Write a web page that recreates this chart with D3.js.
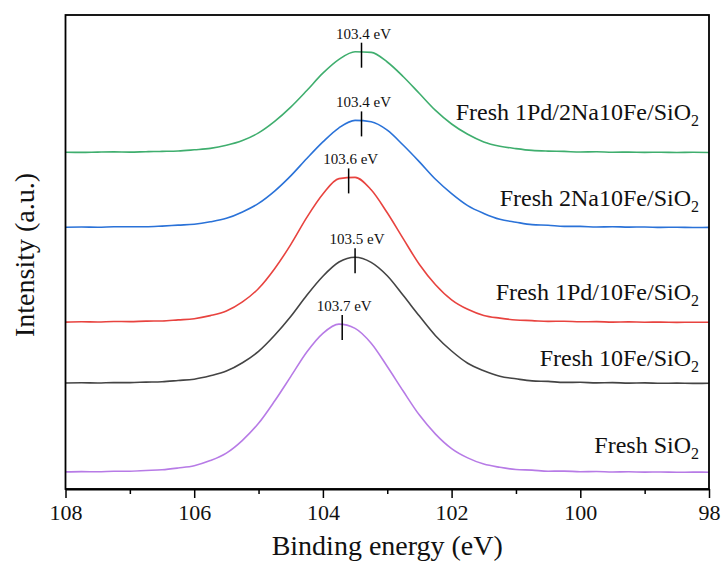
<!DOCTYPE html>
<html>
<head>
<meta charset="utf-8">
<script src="https://cdn.jsdelivr.net/npm/d3@7"></script>
<style>
  html, body { margin: 0; padding: 0; background: #fff; }
  svg { display: block; }
  svg text { font-family: 'Liberation Serif', 'Times New Roman', Times, serif !important; fill: #111; }
</style>
</head>
<body>
<svg id="chart" width="723" height="564"></svg>
<script>
// ---- data (binding energy in eV, intensity in arbitrary units, stacked offsets included) ----
const energy = [108, 107.75, 107.5, 107.25, 107, 106.75, 106.5, 106.25, 106, 105.75, 105.5, 105.25, 105, 104.75, 104.5, 104.25, 104, 103.75, 103.5, 103.25, 103, 102.75, 102.5, 102.25, 102, 101.75, 101.5, 101.25, 101, 100.75, 100.5, 100.25, 100, 99.75, 99.5, 99.25, 99, 98.75, 98.5, 98.25, 98];

const pdNaFe = [335.7, 335.6, 335.9, 336.1, 335.9, 336.3, 336.6, 337.0, 338.2, 339.6, 342.7, 347.5, 355.1, 366.6, 380.9, 397.5, 414.8, 428.6, 436.3, 435.6, 426.0, 411.3, 394.5, 377.6, 364.0, 353.7, 346.1, 341.8, 339.4, 337.6, 336.9, 336.6, 336.0, 336.2, 335.8, 335.9, 335.6, 335.8, 335.5, 335.7, 335.5];
const naFe   = [260.8, 261.0, 260.8, 261.2, 261.3, 261.2, 261.9, 262.9, 263.8, 266.2, 269.7, 276.1, 284.6, 296.9, 312.1, 329.5, 346.1, 360.2, 367.6, 366.2, 357.8, 342.7, 326.1, 308.7, 294.4, 282.4, 274.6, 268.7, 265.8, 263.4, 262.8, 261.6, 261.6, 261.0, 261.3, 260.9, 261.0, 260.6, 260.8, 260.5, 260.6];
const pdFe   = [165.9, 166.2, 166.0, 166.5, 166.4, 166.9, 167.0, 168.1, 169.3, 172.4, 177.0, 186.1, 199.5, 219.3, 243.4, 270.6, 294.0, 309.4, 310.6, 298.2, 275.2, 249.1, 223.5, 203.3, 188.2, 178.7, 172.6, 169.9, 168.0, 167.4, 166.6, 166.8, 166.2, 166.4, 165.9, 166.1, 165.8, 165.9, 165.6, 165.8, 165.7];
const fe     = [105.0, 105.2, 105.0, 105.4, 105.4, 105.9, 106.3, 107.5, 108.8, 112.2, 116.9, 125.2, 136.6, 152.7, 171.5, 192.8, 211.8, 226.0, 230.8, 225.6, 212.2, 192.4, 171.9, 152.3, 137.0, 124.8, 117.3, 111.8, 109.2, 107.1, 106.6, 105.6, 105.7, 105.1, 105.4, 104.9, 105.1, 104.7, 104.9, 104.6, 104.7];
const sio2   = [16.1, 16.4, 16.2, 16.7, 16.8, 17.5, 18.2, 20.0, 22.3, 27.4, 34.9, 47.7, 64.7, 87.0, 111.4, 136.0, 154.7, 163.9, 159.6, 144.7, 121.5, 96.7, 72.9, 53.9, 39.4, 30.1, 23.9, 20.7, 18.5, 17.9, 16.8, 16.9, 16.3, 16.5, 16.0, 16.2, 15.9, 16.0, 15.7, 15.9, 15.8];

const seriesNames = ["Fresh 1Pd/2Na10Fe/SiO", "Fresh 2Na10Fe/SiO", "Fresh 1Pd/10Fe/SiO", "Fresh 10Fe/SiO", "Fresh SiO"];
const seriesSub = ["2", "2", "2", "2", "2"];
const seriesValues = [pdNaFe, naFe, pdFe, fe, sio2];
const seriesColors = ["#3fae6e", "#2a72d8", "#e8433f", "#444444", "#b77be6"];
const peakEnergies = [103.4, 103.4, 103.6, 103.5, 103.7];
const peakLabels = ["103.4 eV", "103.4 eV", "103.6 eV", "103.5 eV", "103.7 eV"];
const labelLevels = [368, 282, 188, 122, 35];   // intensity level of the right-hand name labels
const majorTicks = [108, 106, 104, 102, 100, 98];
const minorTicks = [107, 105, 103, 101, 99];

// ---- layout ----
const svg = d3.select("#chart");
const mLeft = 65.5, mRight = 709, mTop = 15, mBottom = 489;
const serif = "'Liberation Serif', 'Times New Roman', serif";

const x = d3.scaleLinear().domain([108, 98]).range([mLeft, mRight]);
const y = d3.scaleLinear().domain([-1, 473]).range([mBottom, mTop]);

// curves
const line = d3.line()
  .x((d, i) => x(energy[i]))
  .y(d => y(d))
  .curve(d3.curveMonotoneX);

seriesValues.forEach((vals, k) => {
  svg.append("path")
    .attr("d", line(vals))
    .attr("fill", "none")
    .attr("stroke", seriesColors[k])
    .attr("stroke-width", 1.6)
    .attr("stroke-linejoin", "round");
});

// peak markers and labels
seriesValues.forEach((vals, k) => {
  const peakY = y(d3.max(vals));
  const px = x(peakEnergies[k]);
  svg.append("line")
    .attr("x1", px).attr("x2", px)
    .attr("y1", peakY - 9).attr("y2", peakY + 16)
    .attr("stroke", "#000").attr("stroke-width", 1.5);
  svg.append("text")
    .attr("x", px + 2).attr("y", peakY - 13)
    .attr("text-anchor", "middle")
    .style("font-family", serif)
    .attr("font-size", 15)
    .text(peakLabels[k]);
});

// series name labels
seriesNames.forEach((name, k) => {
  const t = svg.append("text")
    .attr("x", 699)
    .attr("y", y(labelLevels[k]))
    .attr("text-anchor", "end")
    .style("font-family", serif)
    .attr("font-size", 24);
  t.append("tspan").text(name);
  t.append("tspan").attr("font-size", 16).attr("dy", 6).text(seriesSub[k]);
});

// frame
svg.append("rect")
  .attr("x", mLeft).attr("y", mTop)
  .attr("width", mRight - mLeft).attr("height", mBottom - mTop)
  .attr("fill", "none").attr("stroke", "#000").attr("stroke-width", 1.8);

// x axis
const axis = d3.axisBottom(x)
  .tickValues(majorTicks)
  .tickFormat(d3.format("d"))
  .tickSizeInner(9).tickSizeOuter(0).tickPadding(6);
const gx = svg.append("g").attr("transform", `translate(0,${mBottom})`).call(axis);
gx.attr("font-family", null);
gx.select(".domain").attr("stroke-width", 1.8);
gx.selectAll(".tick line").attr("stroke-width", 1.5);
gx.selectAll(".tick text")
  .style("font-family", serif)
  .attr("font-size", 22).attr("fill", "#111");

const minorAxis = d3.axisBottom(x)
  .tickValues(minorTicks)
  .tickFormat("")
  .tickSizeInner(5).tickSizeOuter(0);
const gm = svg.append("g").attr("transform", `translate(0,${mBottom})`).call(minorAxis);
gm.select(".domain").remove();
gm.selectAll(".tick line").attr("stroke-width", 1.5);

// axis titles
svg.append("text")
  .attr("x", (mLeft + mRight) / 2).attr("y", 555)
  .attr("text-anchor", "middle")
  .style("font-family", serif)
  .attr("font-size", 28)
  .text("Binding energy (eV)");

svg.append("text")
  .attr("transform", `translate(34,255) rotate(-90)`)
  .attr("text-anchor", "middle")
  .style("font-family", serif)
  .attr("font-size", 28)
  .text("Intensity (a.u.)");
</script>
</body>
</html>
